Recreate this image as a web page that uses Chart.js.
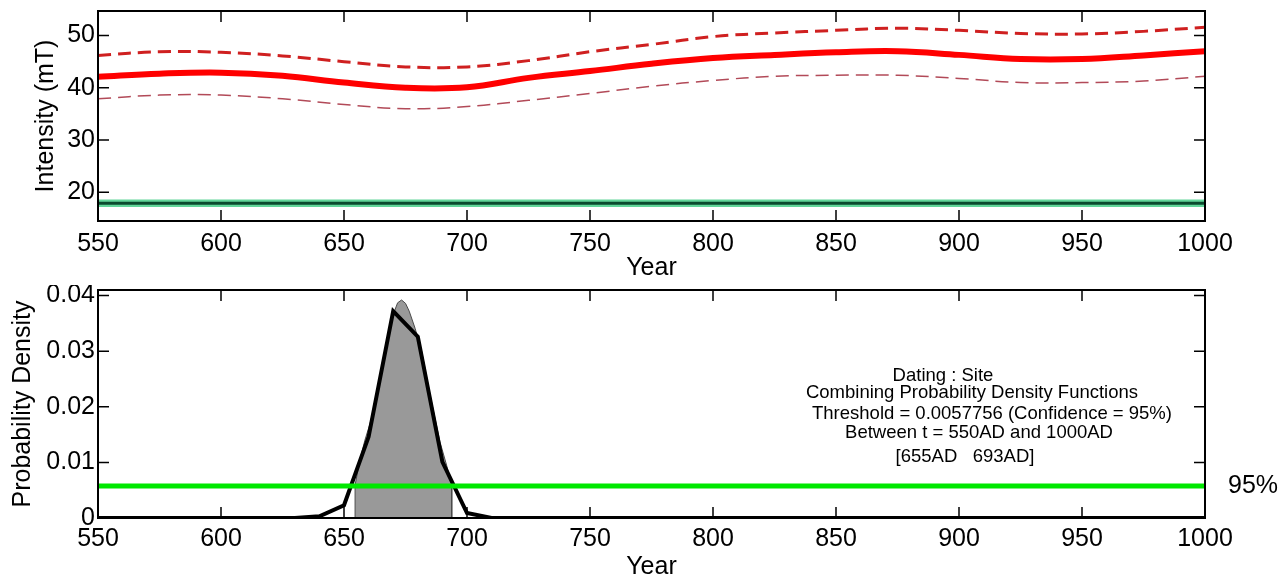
<!DOCTYPE html>
<html>
<head>
<meta charset="utf-8">
<script src="https://cdn.jsdelivr.net/npm/chart.js@4.4.1/dist/chart.umd.min.js"></script>
<style>
  html, body { margin: 0; padding: 0; background: #fff; }
  #wrap { position: relative; width: 1288px; height: 579px; overflow: hidden; background: #fff; }
  canvas { position: absolute; left: 0; }
  #topChart { top: 0; }
  #pdfChart { top: 285px; }
</style>
</head>
<body>
<div id="wrap">
  <canvas id="topChart" width="1288" height="285"></canvas>
  <canvas id="pdfChart" width="1288" height="294"></canvas>
</div>
<script>
// Top panel: intensity curve with its error envelope
const years = [550, 575, 600, 625, 650, 675, 700, 725, 750, 775, 800, 825, 850, 875, 900, 925, 950, 975, 1000];
const intensity = [42.1, 42.7, 42.9, 42.3, 41.0, 40.0, 40.1, 41.9, 43.2, 44.6, 45.7, 46.3, 46.8, 47.0, 46.3, 45.5, 45.5, 46.2, 47.0];
const intensityUpper = [46.2, 46.9, 46.8, 46.1, 45.0, 44.0, 44.0, 45.2, 46.9, 48.3, 49.8, 50.5, 51.0, 51.4, 51.0, 50.4, 50.3, 50.8, 51.6];
const intensityLower = [37.9, 38.6, 38.6, 37.9, 36.8, 36.0, 36.4, 37.6, 38.9, 40.3, 41.4, 42.2, 42.4, 42.4, 41.8, 41.0, 41.0, 41.3, 42.2];

// measured site intensity (green line + band)
const siteYears = [550, 1000];
const siteValue = [17.9, 17.9];
const siteHigh = [18.6, 18.6];
const siteLow = [17.2, 17.2];

// Bottom panel: probability density
const pdfYears = [550, 630, 640, 650, 660, 670, 680, 690, 700, 710, 720, 1000];
const pdfValues = [0, 0, 0.0003, 0.0023, 0.0146, 0.0372, 0.0326, 0.0101, 0.0009, 0, 0, 0];
const hpdYears = [654.5, 654.5, 656.5, 658.5, 660.6, 662.5, 664.6, 666.5, 668.7, 670.5, 671.8, 673.4, 675.0, 676.5, 678.9, 681.6, 685.0, 689.0, 691.7, 693.8, 693.8];
const hpdValues = [0, 0.0059, 0.0105, 0.0140, 0.0170, 0.0205, 0.0245, 0.0290, 0.0345, 0.0372, 0.0387, 0.0392, 0.0386, 0.0372, 0.0341, 0.0299, 0.0221, 0.0137, 0.0095, 0.0059, 0];
const threshold = 0.0057756;

const xTicks = [550, 600, 650, 700, 750, 800, 850, 900, 950, 1000];
const intensityTicks = [20, 30, 40, 50];
const pdfTicks = [0, 0.01, 0.02, 0.03, 0.04];
const pdfTickLabels = ['0', '0.01', '0.02', '0.03', '0.04'];
const noteLines = [
    'Dating : Site',
    'Combining Probability Density Functions',
    'Threshold = 0.0057756 (Confidence = 95%)',
    'Between t = 550AD and 1000AD',
    '[655AD   693AD]'
];
const confLabel = '95%';

const FONT = '"Liberation Sans", Arial, Helvetica, sans-serif';
Chart.defaults.color = '#000';
Chart.defaults.font.family = FONT;

function pts(xs, ys) {
    return xs.map((x, i) => ({ x: x, y: ys[i] }));
}

// force the axis box size so the plot area lands where it should
function fixAxis(size) {
    return function (scale) {
        if (scale.isHorizontal()) scale.height = size; else scale.width = size;
        scale.paddingTop = 0;
        scale.paddingBottom = 0;
        scale.paddingLeft = 0;
        scale.paddingRight = 0;
    };
}

function setTicks(list) {
    return function (scale) {
        scale.ticks = list.map(v => ({ value: v }));
    };
}

// matlab style box with inward tick marks
const frameAndTicks = {
    id: 'frameAndTicks',
    afterDatasetsDraw(chart, args, opts) {
        const { ctx, chartArea: a, scales } = chart;
        const len = opts.len || 11;
        ctx.save();
        ctx.strokeStyle = '#000';
        ctx.lineWidth = 1.5;
        ctx.beginPath();
        scales.x.ticks.forEach(t => {
            const px = scales.x.getPixelForValue(t.value);
            ctx.moveTo(px, a.bottom);
            ctx.lineTo(px, a.bottom - len);
            ctx.moveTo(px, a.top);
            ctx.lineTo(px, a.top + len);
        });
        scales.y.ticks.forEach(t => {
            const py = scales.y.getPixelForValue(t.value);
            ctx.moveTo(a.left, py);
            ctx.lineTo(a.left + len, py);
            ctx.moveTo(a.right, py);
            ctx.lineTo(a.right - len, py);
        });
        ctx.stroke();
        ctx.lineWidth = 2;
        ctx.strokeRect(a.left, a.top, a.right - a.left, a.bottom - a.top);
        ctx.restore();
    }
};

// text block and the 95% label on the pdf panel
const pdfNotes = {
    id: 'pdfNotes',
    afterDraw(chart) {
        const ctx = chart.ctx;
        const top = 285;
        const xs = [943, 972, 992, 979, 965];
        const ys = [376, 393, 414, 433, 457];
        ctx.save();
        ctx.fillStyle = '#000';
        ctx.textAlign = 'center';
        ctx.textBaseline = 'middle';
        ctx.font = '18.5px ' + FONT;
        noteLines.forEach((s, i) => ctx.fillText(s, xs[i], ys[i] - top));
        ctx.font = '25px ' + FONT;
        ctx.textAlign = 'left';
        const py = chart.scales.y.getPixelForValue(threshold);
        ctx.fillText(confLabel, chart.chartArea.right + 23, py);
        ctx.restore();
    }
};

const tickFont = { size: 25, family: FONT };
const titleFont = { size: 25, family: FONT };
const plainLabel = v => String(v);

// ---- top chart ----
new Chart(document.getElementById('topChart'), {
    type: 'line',
    data: {
        datasets: [
            {
                data: pts(siteYears, siteHigh),
                borderWidth: 0,
                pointRadius: 0,
                backgroundColor: '#62d69a',
                fill: '+1',
                order: 5
            },
            {
                data: pts(siteYears, siteLow),
                borderWidth: 0,
                pointRadius: 0,
                fill: false,
                order: 5
            },
            {
                data: pts(siteYears, siteValue),
                borderColor: '#0b4a2e',
                borderWidth: 3,
                pointRadius: 0,
                order: 1
            },
            {
                data: pts(years, intensityUpper),
                borderColor: '#cf2020',
                borderWidth: 3,
                borderDash: [13, 7],
                pointRadius: 0,
                tension: 0.4,
                order: 1
            },
            {
                data: pts(years, intensityLower),
                borderColor: '#b24a58',
                borderWidth: 1.5,
                borderDash: [13, 7],
                pointRadius: 0,
                tension: 0.4,
                order: 1
            },
            {
                data: pts(years, intensity),
                borderColor: '#ff0000',
                borderWidth: 6,
                pointRadius: 0,
                tension: 0.4,
                order: 0
            }
        ]
    },
    options: {
        responsive: false,
        animation: false,
        devicePixelRatio: 1,
        layout: { padding: { top: 11, right: 83, left: 0, bottom: 0 } },
        plugins: { legend: { display: false }, tooltip: { enabled: false }, frameAndTicks: { len: 11 } },
        scales: {
            x: {
                type: 'linear',
                min: 550,
                max: 1000,
                afterBuildTicks: setTicks(xTicks),
                afterFit: fixAxis(64),
                grid: { display: false, drawTicks: false },
                border: { display: false },
                ticks: { font: tickFont, padding: 8, maxRotation: 0, callback: plainLabel },
                title: { display: true, text: 'Year', font: titleFont, padding: { top: 0, bottom: 2 } }
            },
            y: {
                min: 14.5,
                max: 54.7,
                afterBuildTicks: setTicks(intensityTicks),
                afterFit: fixAxis(98),
                grid: { display: false, drawTicks: false },
                border: { display: false },
                ticks: { font: tickFont, padding: 3, callback: plainLabel },
                title: { display: true, text: 'Intensity (mT)', font: titleFont, padding: { top: 31, bottom: 0 } }
            }
        }
    },
    plugins: [frameAndTicks]
});

// ---- bottom chart ----
new Chart(document.getElementById('pdfChart'), {
    type: 'line',
    data: {
        datasets: [
            {
                data: pts(siteYears, [threshold, threshold]),
                borderColor: '#00e800',
                borderWidth: 5,
                pointRadius: 0,
                order: 0
            },
            {
                data: pts(pdfYears, pdfValues),
                borderColor: '#000',
                borderWidth: 4,
                pointRadius: 0,
                order: 1
            },
            {
                data: pts(hpdYears, hpdValues),
                borderColor: '#4a4a4a',
                borderWidth: 1,
                backgroundColor: '#999999',
                fill: 'origin',
                pointRadius: 0,
                order: 2
            }
        ]
    },
    options: {
        responsive: false,
        animation: false,
        devicePixelRatio: 1,
        layout: { padding: { top: 5, right: 83, left: 0, bottom: 0 } },
        plugins: { legend: { display: false }, tooltip: { enabled: false }, frameAndTicks: { len: 11 } },
        scales: {
            x: {
                type: 'linear',
                min: 550,
                max: 1000,
                afterBuildTicks: setTicks(xTicks),
                afterFit: fixAxis(61),
                grid: { display: false, drawTicks: false },
                border: { display: false },
                ticks: { font: tickFont, padding: 6, maxRotation: 0, callback: plainLabel },
                title: { display: true, text: 'Year', font: titleFont, padding: { top: 0, bottom: -3 } }
            },
            y: {
                min: 0,
                max: 0.041,
                afterBuildTicks: setTicks(pdfTicks),
                afterFit: fixAxis(98),
                grid: { display: false, drawTicks: false },
                border: { display: false },
                ticks: {
                    font: tickFont,
                    padding: 3,
                    callback: (v, i) => pdfTickLabels[i]
                },
                title: { display: true, text: 'Probability Density', font: titleFont, padding: { top: 8, bottom: 0 } }
            }
        }
    },
    plugins: [frameAndTicks, pdfNotes]
});
</script>
</body>
</html>
